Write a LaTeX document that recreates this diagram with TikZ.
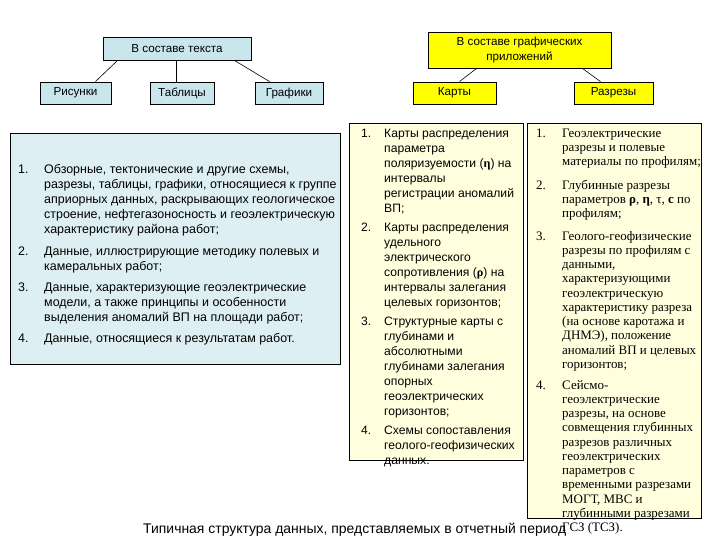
\documentclass[tikz,border=0pt]{standalone}
\usepackage{fontspec}
\setmainfont{Liberation Sans}
\newfontfamily\serifru{Liberation Serif}
\definecolor{hdrblue}{RGB}{200,230,236}
\definecolor{boxblue}{RGB}{222,239,243}
\definecolor{hdryellow}{RGB}{255,255,0}
\definecolor{boxyellow}{RGB}{255,255,222}
\newcommand{\grk}[1]{{\serifru\bfseries #1}}

\begin{document}
\begin{tikzpicture}[x=1bp,y=-1bp,
  hdr/.style={draw=black,line width=0.8bp,inner sep=0pt,align=center,
    font=\fontsize{11.7}{16}\selectfont},
  panel/.style={draw=black,line width=1bp,inner sep=0pt,anchor=north west},
  num/.style={anchor=north west,inner sep=0pt},
  itm/.style={anchor=north west,inner sep=0pt,align=left},
  sans/.style={font=\fontsize{12.5}{15}\selectfont},
  msans/.style={font=\fontsize{12.2}{15}\selectfont},
  serif/.style={font=\serifru\fontsize{13}{14.3}\selectfont},
  link/.style={draw=black,line width=0.6bp}]
\useasboundingbox (0,0) rectangle (720,540);

%% header boxes
\node[hdr,fill=hdrblue,minimum width=148bp,minimum height=23bp] (txt) at (177,48.5) {В составе текста};
\node[hdr,fill=hdrblue,minimum width=71bp,minimum height=22bp] (ris) at (75.5,93) {Рисунки};
\node[hdr,fill=hdrblue,minimum width=64bp,minimum height=22bp] (tab) at (182,93) {Таблицы};
\node[hdr,fill=hdrblue,minimum width=68bp,minimum height=22bp] (graf) at (289,93) {Графики};
\node[hdr,fill=hdryellow,minimum width=183bp,minimum height=36bp] (gra) at (519.5,50) {В составе графических\\приложений};
\node[hdr,fill=hdryellow,minimum width=83bp,minimum height=22bp] (kart) at (454.5,93) {Карты};
\node[hdr,fill=hdryellow,minimum width=79bp,minimum height=22bp] (razr) at (613.5,93) {Разрезы};

\draw[link] ([xshift=15bp]txt.south west) -- ([xshift=-16bp]ris.north east);
\draw[link] ([xshift=-1bp]txt.south) -- ([xshift=-1bp]txt.south |- tab.north);
\draw[link] ([xshift=-17bp]txt.south east) -- ([xshift=15bp]graf.north west);
\draw[link] ([xshift=49bp]gra.south west) -- ([xshift=5bp]kart.north);
\draw[link] ([xshift=-29bp]gra.south east) -- ([xshift=-13bp]razr.north);

%% panels
\node[panel,fill=boxblue,minimum width=330bp,minimum height=231bp] (lpanel) at (10,133) {};
\node[panel,fill=boxyellow,minimum width=174bp,minimum height=337bp] (mpanel) at (349,123) {};
\node[panel,fill=boxyellow,minimum width=174bp,minimum height=395bp] (rpanel) at (527,123) {};

%% left list
\node[num,sans] (l1n) at (18,163) {\strut 1.};
\node[itm,sans] (l1) at (44,163) {\strut Обзорные, тектонические и другие схемы,\\
  разрезы, таблицы, графики, относящиеся к группе\\
  априорных данных, раскрывающих геологическое\\
  строение, нефтегазоносность и геоэлектрическую\\
  характеристику района работ;};
\node[num,sans] (l2n) at (18,244.5) {\strut 2.};
\node[itm,sans] (l2) at (44,244.5) {\strut Данные, иллюстрирующие методику полевых и\\
  камеральных работ;};
\node[num,sans] (l3n) at (18,281) {\strut 3.};
\node[itm,sans] (l3) at (44,281) {\strut Данные, характеризующие геоэлектрические\\
  модели, а также принципы и особенности\\
  выделения аномалий ВП на площади работ;};
\node[num,sans] (l4n) at (18,332) {\strut 4.};
\node[itm,sans] (l4) at (44,332) {\strut Данные, относящиеся к результатам работ.};

%% middle list
\node[num,msans] (m1n) at (361,127) {\strut 1.};
\node[itm,msans] (m1) at (384,127) {\strut Карты распределения\\
  параметра\\
  поляризуемости (\grk{η}) на\\
  интервалы\\
  регистрации аномалий\\
  ВП;};
\node[num,msans] (m2n) at (361,221) {\strut 2.};
\node[itm,msans] (m2) at (384,221) {\strut Карты распределения\\
  удельного\\
  электрического\\
  сопротивления (\grk{ρ}) на\\
  интервалы залегания\\
  целевых горизонтов;};
\node[num,msans] (m3n) at (361,315) {\strut 3.};
\node[itm,msans] (m3) at (384,315) {\strut Структурные карты с\\
  глубинами и\\
  абсолютными\\
  глубинами залегания\\
  опорных\\
  геоэлектрических\\
  горизонтов;};
\node[num,msans] (m4n) at (361,424) {\strut 4.};
\node[itm,msans] (m4) at (384,424) {\strut Схемы сопоставления\\
  геолого-геофизических\\
  данных.};

%% right list
\node[num,serif] (r1n) at (536,127) {\strut 1.};
\node[itm,serif] (r1) at (562,127) {\strut Геоэлектрические\\
  разрезы и полевые\\
  материалы по профилям;};
\node[num,serif] (r2n) at (536,179) {\strut 2.};
\node[itm,serif] (r2) at (562,179) {\strut Глубинные разрезы\\
  параметров \textbf{ρ}, \textbf{η}, τ, \textbf{с} по\\
  профилям;};
\node[num,serif] (r3n) at (536,230) {\strut 3.};
\node[itm,serif] (r3) at (562,230) {\strut Геолого-геофизические\\
  разрезы по профилям с\\
  данными,\\
  характеризующими\\
  геоэлектрическую\\
  характеристику разреза\\
  (на основе каротажа и\\
  ДНМЭ), положение\\
  аномалий ВП и целевых\\
  горизонтов;};
\node[num,serif] (r4n) at (536,379) {\strut 4.};
\node[itm,serif] (r4) at (562,379) {\strut Сейсмо-\\
  геоэлектрические\\
  разрезы, на основе\\
  совмещения глубинных\\
  разрезов различных\\
  геоэлектрических\\
  параметров с\\
  временными разрезами\\
  МОГТ, МВС и\\
  глубинными разрезами\\
  ГСЗ (ТСЗ).};

%% caption
\node[anchor=base west,inner sep=0pt,font=\fontsize{14}{16}\selectfont] (cap) at (143,533)
  {Типичная структура данных, представляемых в отчетный период};

\end{tikzpicture}
\end{document}
